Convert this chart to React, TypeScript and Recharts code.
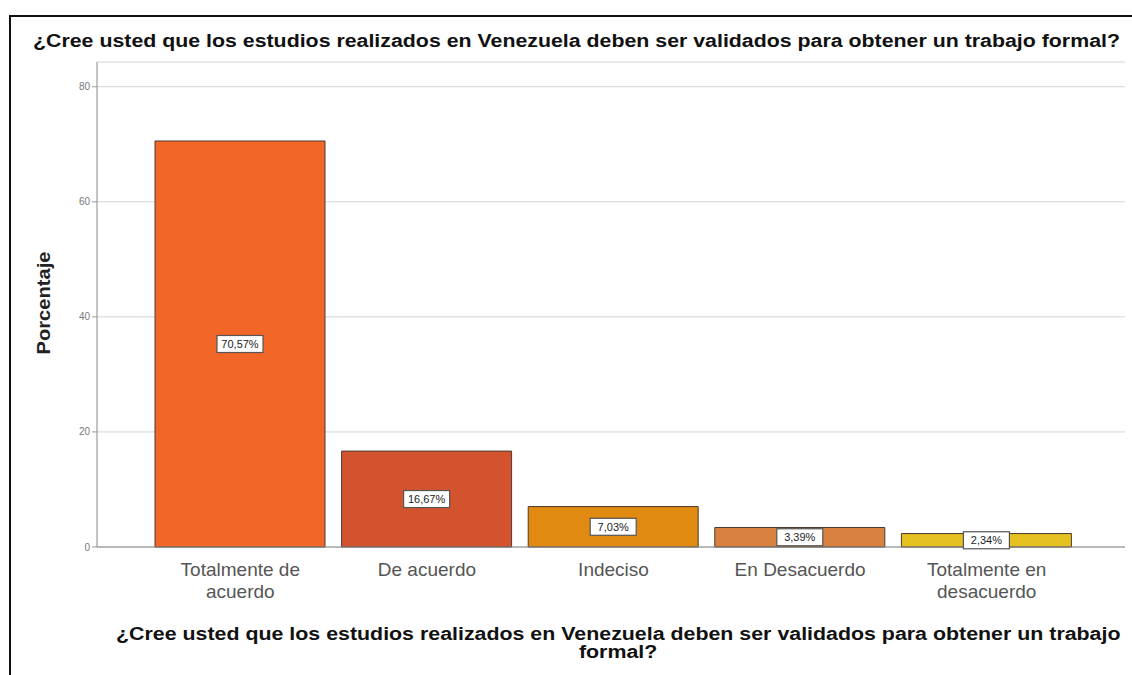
import React from "react";
import { Bar, BarChart, CartesianGrid, Cell, LabelList, XAxis, YAxis } from "recharts";

const categories = [
  "Totalmente de acuerdo",
  "De acuerdo",
  "Indeciso",
  "En Desacuerdo",
  "Totalmente en desacuerdo",
];
const tickLines = [
  ["Totalmente de", "acuerdo"],
  ["De acuerdo"],
  ["Indeciso"],
  ["En Desacuerdo"],
  ["Totalmente en", "desacuerdo"],
];
const percentages = [70.57, 16.67, 7.03, 3.39, 2.34];
const percentLabels = ["70,57%", "16,67%", "7,03%", "3,39%", "2,34%"];
const barColors = ["#F26727", "#D4532F", "#E08A12", "#D9813E", "#E4C021"];
const yTicks = [0, 20, 40, 60, 80];

const question = "¿Cree usted que los estudios realizados en Venezuela deben ser validados para obtener un trabajo formal?";

const data = categories.map((name, i) => ({
  name,
  value: percentages[i],
  label: percentLabels[i],
}));

const font = "Arial, 'Liberation Sans', sans-serif";

function CategoryTick(props: any) {
  const { x, y, index } = props;
  const lines = tickLines[index] || [];
  return (
    <text x={x} y={y} textAnchor="middle" fill="#555" fontSize={19} fontFamily={font}>
      {lines.map((l, i) => (
        <tspan key={i} x={x} dy={i === 0 ? 21 : 22}>
          {l}
        </tspan>
      ))}
    </text>
  );
}

function ValueBox(props: any) {
  const { x, y, width, height, index } = props;
  const cx = x + width / 2;
  const cy = y + height / 2;
  const w = 46;
  const h = 17;
  return (
    <g>
      <rect x={cx - w / 2} y={cy - h / 2} width={w} height={h} fill="#fff" stroke="#555" strokeWidth={1.2} />
      <text x={cx} y={cy + 4} textAnchor="middle" fontSize={11} fill="#222" fontFamily={font}>
        {percentLabels[index]}
      </text>
    </g>
  );
}

function YTitle() {
  const cx = 50;
  const cy = 303;
  return (
    <text
      x={cx}
      y={cy}
      textAnchor="middle"
      textLength={103}
      lengthAdjust="spacingAndGlyphs"
      transform={`rotate(-90 ${cx} ${cy})`}
      fontSize={18}
      fontWeight="bold"
      fill="#222"
      fontFamily={font}
    >
      Porcentaje
    </text>
  );
}

export default function App() {
  return (
    <div style={{ position: "absolute", left: 0, top: 0, width: 1132, height: 675, background: "#fff", fontFamily: font }}>
      <div style={{ position: "absolute", left: 9, top: 15, width: 1123, height: 660, borderTop: "2px solid #111", borderLeft: "2px solid #111" }} />
      <div
        style={{
          position: "absolute",
          left: 33,
          top: 31,
          fontSize: 18,
          fontWeight: "bold",
          color: "#111",
          whiteSpace: "nowrap",
          transform: "scaleX(1.185)",
          transformOrigin: "left top",
        }}
      >
        {question}
      </div>
      <div style={{ position: "absolute", left: 0, top: 0 }}>
        <BarChart width={1132} height={675} data={data} margin={{ top: 62, right: 7, bottom: 98, left: 0 }} barSize={170}>
          <CartesianGrid vertical={false} stroke="#d4d4d4" />
          <XAxis
            dataKey="name"
            tick={<CategoryTick />}
            tickLine={false}
            axisLine={{ stroke: "#888" }}
            interval={0}
            height={30}
            padding={{ left: 50, right: 45 }}
          />
          <YAxis
            width={97}
            domain={[0, 84.3]}
            ticks={yTicks}
            tick={{ fontSize: 10, fill: "#777", fontFamily: font }}
            tickSize={5}
            tickLine={{ stroke: "#999" }}
            axisLine={{ stroke: "#888" }}
            label={<YTitle />}
          />
          <Bar dataKey="value" stroke="#4a3a30" strokeWidth={1} isAnimationActive={false}>
            {data.map((d, i) => (
              <Cell key={d.name} fill={barColors[i]} />
            ))}
            <LabelList dataKey="label" content={<ValueBox />} />
          </Bar>
        </BarChart>
      </div>
      <div
        style={{
          position: "absolute",
          left: 116,
          top: 625,
          width: 846,
          textAlign: "center",
          fontSize: 18,
          fontWeight: "bold",
          color: "#111",
          lineHeight: "18px",
          whiteSpace: "nowrap",
          transform: "scaleX(1.187)",
          transformOrigin: "left top",
        }}
      >
        ¿Cree usted que los estudios realizados en Venezuela deben ser validados para obtener un trabajo
        <br />
        formal?
      </div>
    </div>
  );
}
